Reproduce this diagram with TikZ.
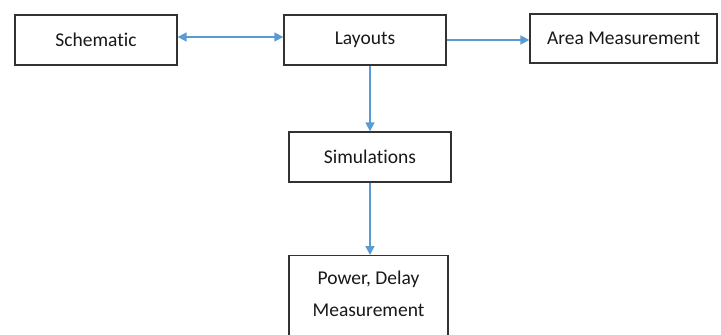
\documentclass[tikz,border=0pt]{standalone}
\usepackage{fontspec}
\setmainfont{Carlito}[Ligatures={NoCommon}]
\usetikzlibrary{arrows.meta}
\definecolor{arrowblue}{RGB}{91,155,213}
\definecolor{boxgray}{RGB}{50,50,50}
\tikzset{
  box/.style={draw=boxgray, line width=1.3pt, fill=white, inner sep=0pt},
  lbl/.style={font=\fontsize{19.5}{32}\selectfont, text=black!90, align=center},
  conn/.style={draw=arrowblue, line width=1.5pt, -{Triangle[length=9pt,width=9pt]}},
  bconn/.style={draw=arrowblue, line width=1.5pt, {Triangle[length=9pt,width=9pt]}-{Triangle[length=9pt,width=9pt]}}
}
\begin{document}
\begin{tikzpicture}[x=1pt,y=-1pt]
\useasboundingbox (0,0) rectangle (721,335);
\node[box, lbl, minimum width=162pt, minimum height=50pt] (schematic) at (96,40) {Schematic};
\node[box, lbl, minimum width=162pt, minimum height=50pt] (layouts) at (365,40) {Layouts};
\node[box, lbl, minimum width=187pt, minimum height=49pt] (area) at (623.5,38.5) {Area Measurement};
\node[box, lbl, minimum width=162pt, minimum height=50pt] (sim) at (370,157) {Simulations};
\node[box, minimum width=159pt, minimum height=95pt, anchor=north] (power) at (368.5,255) {};
\node[lbl] (powertext) at (368.5,294) {Power, Delay\\Measurement};
\draw[bconn] ([yshift=3pt]schematic.east) -- ([yshift=3pt]layouts.west);
\draw[conn] (layouts.east) -- (layouts.east -| area.west);
\draw[conn] (sim.north |- layouts.south) -- (sim.north);
\draw[conn] (sim.south) -- (sim.south |- power.north);
\end{tikzpicture}
\end{document}
